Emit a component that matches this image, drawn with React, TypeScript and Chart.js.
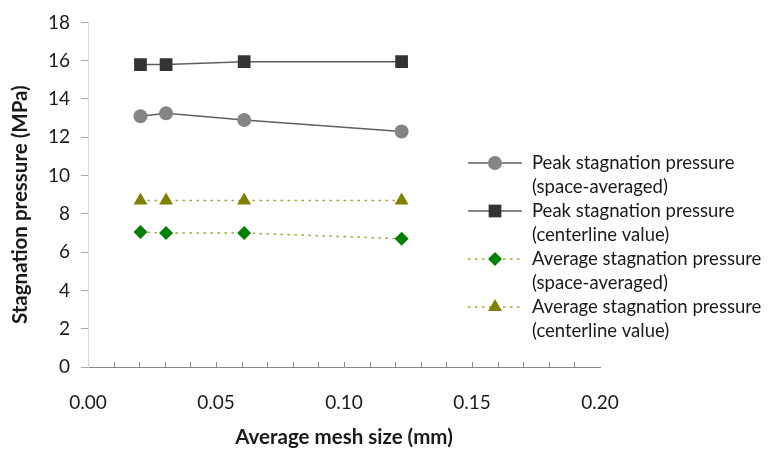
import React, { useEffect, useRef } from 'react';
import { Chart, registerables } from 'chart.js';

Chart.register(...registerables);

// ---- data ----
const meshSize = [0.0205, 0.0305, 0.061, 0.1225];
const peakSpaceAveraged = [13.1, 13.25, 12.9, 12.3];
const peakCenterline = [15.8, 15.8, 15.95, 15.95];
const avgSpaceAveraged = [7.05, 7.0, 7.0, 6.7];
const avgCenterline = [8.7, 8.7, 8.7, 8.7];

const seriesNames = [
  ['Peak stagnation pressure', '(space-averaged)'],
  ['Peak stagnation pressure', '(centerline value)'],
  ['Average stagnation pressure', '(space-averaged)'],
  ['Average stagnation pressure', '(centerline value)'],
];
const xTitle = 'Average mesh size (mm)';
const yTitle = 'Stagnation pressure (MPa)';
const xMin = 0, xMax = 0.2, xStep = 0.05, xMinorStep = 0.01;
const yMin = 0, yMax = 18, yStep = 2;

const FONT = 'Lato, "Open Sans", sans-serif';

const toPoints = (ys: number[]) => meshSize.map((x, i) => ({ x, y: ys[i] }));

function drawMarker(ctx: CanvasRenderingContext2D, style: string, r: number, x: number, y: number, color: string) {
  ctx.save();
  ctx.fillStyle = color;
  ctx.beginPath();
  if (style === 'circle') {
    ctx.arc(x, y, r, 0, Math.PI * 2);
  } else if (style === 'rect') {
    const s = Math.SQRT1_2 * r;
    ctx.rect(x - s, y - s, 2 * s, 2 * s);
  } else if (style === 'rectRot') {
    ctx.moveTo(x, y - r);
    ctx.lineTo(x + r, y);
    ctx.lineTo(x, y + r);
    ctx.lineTo(x - r, y);
    ctx.closePath();
  } else if (style === 'triangle') {
    let a = 0;
    ctx.moveTo(x + Math.sin(a) * r, y - Math.cos(a) * r);
    a += (2 * Math.PI) / 3;
    ctx.lineTo(x + Math.sin(a) * r, y - Math.cos(a) * r);
    a += (2 * Math.PI) / 3;
    ctx.lineTo(x + Math.sin(a) * r, y - Math.cos(a) * r);
    ctx.closePath();
  }
  ctx.fill();
  ctx.restore();
}

const sideLegend = {
  id: 'sideLegend',
  afterDraw(chart: any) {
    const ctx: CanvasRenderingContext2D = chart.ctx;
    const lineX0 = 468, lineX1 = 522, markX = 495, textX = 532;
    const firstY = 163, entryGap = 48, lineH = 24.5;
    chart.data.datasets.forEach((ds: any, i: number) => {
      const y = firstY + i * entryGap;
      ctx.save();
      ctx.strokeStyle = ds.borderColor;
      ctx.lineWidth = ds.borderWidth;
      ctx.setLineDash(ds.borderDash || []);
      ctx.beginPath();
      ctx.moveTo(lineX0, y);
      ctx.lineTo(lineX1, y);
      ctx.stroke();
      ctx.setLineDash([]);
      drawMarker(ctx, ds.pointStyle, ds.pointRadius, markX, y, ds.pointBackgroundColor);
      ctx.fillStyle = '#1a1a1a';
      ctx.font = `18.5px ${FONT}`;
      ctx.textBaseline = 'middle';
      ctx.textAlign = 'left';
      (seriesNames[i] || []).forEach((t, k) => ctx.fillText(t, textX, y + k * lineH));
      ctx.restore();
    });
  },
};

const innerTicks = {
  id: 'innerTicks',
  beforeDatasetsDraw(chart: any) {
    const ctx: CanvasRenderingContext2D = chart.ctx;
    const xs = chart.scales.x;
    const bottom = chart.chartArea.bottom;
    ctx.save();
    ctx.strokeStyle = '#8a8a8a';
    ctx.lineWidth = 1;
    const n = Math.round((xMax - xMin) / xMinorStep);
    for (let k = 1; k < n; k++) {
      const px = Math.round(xs.getPixelForValue(xMin + k * xMinorStep)) + 0.5;
      ctx.beginPath();
      ctx.moveTo(px, bottom);
      ctx.lineTo(px, bottom - 5);
      ctx.stroke();
    }
    ctx.restore();
  },
};

export default function App() {
  const ref = useRef<HTMLCanvasElement | null>(null);
  useEffect(() => {
    if (!ref.current) return;
    const chart = new Chart(ref.current, {
      type: 'line',
      data: {
        datasets: [
          {
            label: seriesNames[0].join(' '),
            data: toPoints(peakSpaceAveraged),
            borderColor: '#5f5f5f',
            borderWidth: 1.5,
            pointStyle: 'circle',
            pointRadius: 7,
            pointBackgroundColor: '#858585',
            pointBorderWidth: 0,
            pointBorderColor: '#858585',
          },
          {
            label: seriesNames[1].join(' '),
            data: toPoints(peakCenterline),
            borderColor: '#5f5f5f',
            borderWidth: 1.5,
            pointStyle: 'rect',
            pointRadius: 9,
            pointBackgroundColor: '#333333',
            pointBorderWidth: 0,
            pointBorderColor: '#333333',
          },
          {
            label: seriesNames[2].join(' '),
            data: toPoints(avgSpaceAveraged),
            borderColor: '#a5a53c',
            borderWidth: 1.5,
            borderDash: [2.5, 4.5],
            pointStyle: 'rectRot',
            pointRadius: 7,
            pointBackgroundColor: '#008000',
            pointBorderWidth: 0,
            pointBorderColor: '#008000',
          },
          {
            label: seriesNames[3].join(' '),
            data: toPoints(avgCenterline),
            borderColor: '#a5a53c',
            borderWidth: 1.5,
            borderDash: [2.5, 4.5],
            pointStyle: 'triangle',
            pointRadius: 8,
            pointBackgroundColor: '#808000',
            pointBorderWidth: 0,
            pointBorderColor: '#808000',
          },
        ],
      },
      options: {
        responsive: false,
        animation: false,
        layout: { padding: { top: 15, right: 178, left: 0, bottom: 0 } },
        plugins: {
          legend: { display: false },
          tooltip: { enabled: false },
        },
        scales: {
          x: {
            type: 'linear',
            min: xMin,
            max: xMax,
            afterFit: (s: any) => { s.height = 88; },
            ticks: {
              stepSize: xStep,
              padding: 24,
              color: '#1a1a1a',
              font: { family: FONT, size: 19 },
              callback: (v: any) => Number(v).toFixed(2),
            },
            grid: { display: false, drawTicks: false },
            border: { display: true, color: '#868686', width: 1 },
            title: {
              display: true,
              text: xTitle,
              color: '#1a1a1a',
              font: { family: FONT, size: 20.5, weight: 'bold' },
              padding: { top: 0, bottom: 5 },
            },
          },
          y: {
            type: 'linear',
            min: yMin,
            max: yMax,
            afterFit: (s: any) => { s.width = 88; },
            ticks: {
              stepSize: yStep,
              padding: 11,
              color: '#1a1a1a',
              font: { family: FONT, size: 19 },
            },
            grid: { display: true, drawOnChartArea: false, drawTicks: true, tickLength: 7, color: '#a6a6a6' },
            border: { display: true, color: '#d9d9d9', width: 1 },
            title: {
              display: true,
              text: yTitle + '    ',
              color: '#1a1a1a',
              font: { family: FONT, size: 20.5, weight: 'bold' },
              padding: { top: 8, bottom: 0 },
            },
          },
        },
      } as any,
      plugins: [innerTicks, sideLegend],
    });
    return () => chart.destroy();
  }, []);
  return (
    <div style={{ position: 'fixed', left: 0, top: 0, width: 778, height: 455, background: '#fff' }}>
      <canvas ref={ref} width={778} height={455} />
    </div>
  );
}
